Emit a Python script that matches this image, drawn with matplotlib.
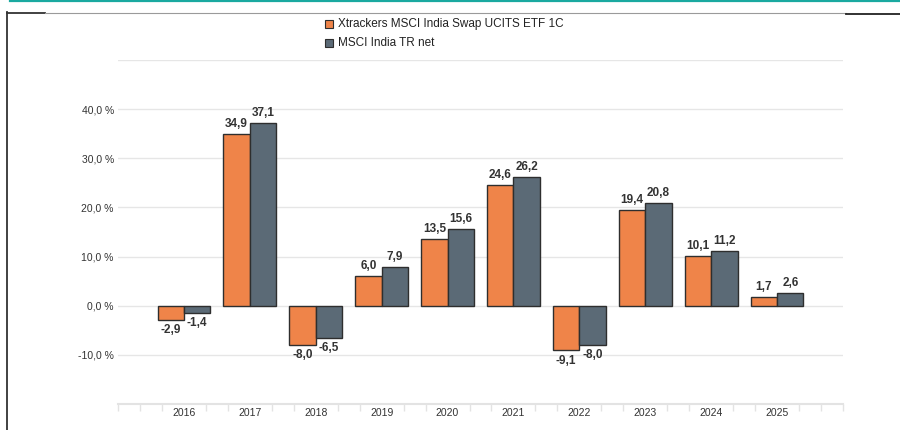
"""Annual performance bar chart: fund vs index."""
import matplotlib.pyplot as plt
import numpy as np
from matplotlib.lines import Line2D
from matplotlib.patches import Rectangle
from matplotlib.ticker import FixedLocator

plt.rcParams["font.family"] = ["Liberation Sans", "DejaVu Sans"]

years = ["2016", "2017", "2018", "2019", "2020", "2021", "2022", "2023", "2024", "2025"]
fund = [-2.9, 34.9, -8.0, 6.0, 13.5, 24.6, -9.1, 19.4, 10.1, 1.7]
index = [-1.4, 37.1, -6.5, 7.9, 15.6, 26.2, -8.0, 20.8, 11.2, 2.6]
series_names = ["Xtrackers MSCI India Swap UCITS ETF 1C", "MSCI India TR net"]
y_ticks = [-10, 0, 10, 20, 30, 40]

ORANGE = "#ef8449"
SLATE = "#5b6a76"
EDGE = "#2e2e2e"
GRID = "#e6e6e6"
TXT = "#333333"

W, H = 900, 430
fig = plt.figure(figsize=(W / 100, H / 100), dpi=100)
ax = fig.add_axes([118 / W, 1 - 404 / H, 725 / W, 344 / H])

x = np.arange(len(years))
bw = 0.4
b1 = ax.bar(x - bw / 2, fund, width=bw, color=ORANGE, edgecolor=EDGE, linewidth=1, zorder=3)
b2 = ax.bar(x + bw / 2, index, width=bw, color=SLATE, edgecolor=EDGE, linewidth=1, zorder=3)

for bars, vals in ((b1, fund), (b2, index)):
    for rect, v in zip(bars, vals):
        cx = rect.get_x() + rect.get_width() / 2
        lab = f"{v:.1f}".replace(".", ",")
        off, va = (3, "bottom") if v >= 0 else (-3, "top")
        ax.annotate(lab, (cx, v), xytext=(0, off), textcoords="offset points",
                    ha="center", va=va, fontsize=8.5, fontweight="bold", color=TXT)

ax.set_xlim(-1, 10)
ax.set_ylim(-20, 50)

# gridlines at -10..50, labels only -10..40
for g in range(-10, 51, 10):
    ax.axhline(g, color=GRID, linewidth=1, zorder=1)
ax.set_yticks(y_ticks)
ax.set_yticklabels([f"{t:.1f} %".replace(".", ",") for t in y_ticks])
ax.tick_params(axis="y", length=0, pad=3, labelsize=7.5, labelcolor=TXT)

ax.set_xticks(x)
ax.set_xticklabels(years)
ax.tick_params(axis="x", which="major", length=0, pad=3, labelsize=7.5, labelcolor=TXT)
thirds = [k / 3 for k in range(-3, 31) if k % 3 != 0 or k in (-3, 30)]
ax.xaxis.set_minor_locator(FixedLocator(thirds))
ax.tick_params(axis="x", which="minor", length=5, width=1, color="#e3e3e3")

for s in ("top", "right", "left"):
    ax.spines[s].set_visible(False)
ax.spines["bottom"].set_color("#e3e3e3")
ax.spines["bottom"].set_linewidth(1.5)

# legend
for i, (name, col) in enumerate(zip(series_names, (ORANGE, SLATE))):
    cy = 24 + i * 19
    fig.patches.append(Rectangle((325 / W, 1 - (cy + 4) / H), 8 / W, 8 / H,
                                 transform=fig.transFigure, facecolor=col,
                                 edgecolor=EDGE, linewidth=0.8))
    fig.text(338 / W, 1 - cy / H, name, ha="left", va="center", fontsize=8.5, color="#222222")

# page frame
def fline(x0, x1, y0, y1, color, lw):
    fig.add_artist(Line2D([x0 / W, x1 / W], [1 - y0 / H, 1 - y1 / H],
                          transform=fig.transFigure, color=color, linewidth=lw))

fline(10, 900, 0.8, 0.8, "#1aa9a0", 1.6)
fline(7, 7, 12, 430, "#333333", 1.3)
fline(7, 45, 12.5, 12.5, "#333333", 1.3)
fline(45, 846, 12.5, 12.5, "#9a9a9a", 0.8)
fline(846, 900, 13.5, 13.5, "#222222", 1.3)

fig.savefig("out.png", dpi=100)
